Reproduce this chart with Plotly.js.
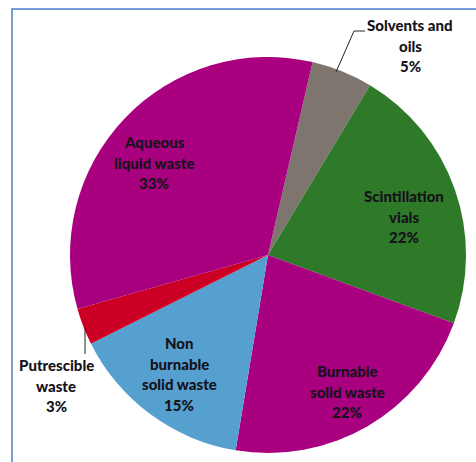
<!DOCTYPE html>
<html>
<head>
<meta charset="utf-8">
<script src="https://cdn.plot.ly/plotly-3.0.1.min.js"></script>
<style>html,body{margin:0;padding:0;background:#fff;}#chart{width:476px;height:462px;}</style>
</head>
<body>
<div id="chart"></div>
<script>
// Data (clockwise from top)
const categories = ["Solvents and oils", "Scintillation vials", "Burnable solid waste", "Non burnable solid waste", "Putrescible waste", "Aqueous liquid waste"];
const labelLines = [["Solvents and", "oils"], ["Scintillation", "vials"], ["Burnable", "solid waste"], ["Non", "burnable", "solid waste"], ["Putrescible", "waste"], ["Aqueous", "liquid waste"]];
const values = [5, 22, 22, 15, 3, 33];
const colors = ["#7F756F", "#2E7A28", "#A8007F", "#56A0CF", "#CC0025", "#A8007F"];

// Layout positions (pixel centres of label blocks)
const W = 476, H = 462;
const labelPos = [[410, 25], [404, 196], [347, 371], [179, 343], [56, 365], [154, 142]];
const lineGap = 20.7;
const px = x => x / W, py = y => 1 - y / H;

const total = values.reduce((a, b) => a + b, 0);
const annotations = [];
categories.forEach((c, i) => {
  const lines = labelLines[i].concat([Math.round(values[i] / total * 100) + "%"]);
  lines.forEach((t, j) => {
    annotations.push({
      xref: "paper", yref: "paper", x: px(labelPos[i][0]), y: py(labelPos[i][1] + j * lineGap),
      text: t, showarrow: false, xanchor: "center", yanchor: "middle",
      font: {family: "Lato, 'Open Sans', sans-serif", size: 15, weight: 900, color: "#15121A"}
    });
  });
});

const shapes = [
  {type: "rect", xref: "paper", yref: "paper", x0: px(12), x1: px(490), y0: py(480), y1: py(9),
   line: {color: "#4A7CC9", width: 1.5}, fillcolor: "rgba(0,0,0,0)"},
  {type: "path", xref: "paper", yref: "paper",
   path: `M ${px(336)} ${py(72)} L ${px(354)} ${py(31)} L ${px(365)} ${py(31)}`,
   line: {color: "#222", width: 1}},
  {type: "path", xref: "paper", yref: "paper",
   path: `M ${px(85)} ${py(327)} L ${px(85)} ${py(354)}`,
   line: {color: "#222", width: 1}}
];

const trace = {
  type: "pie", labels: categories, values: values, sort: false, direction: "clockwise",
  rotation: 13, marker: {colors: colors, line: {width: 0}}, textinfo: "none", hoverinfo: "none",
  domain: {x: [px(70), px(466)], y: [py(453), py(57)]}, showlegend: false
};

Plotly.newPlot("chart", [trace], {
  width: W, height: H, margin: {l: 0, r: 0, t: 0, b: 0},
  paper_bgcolor: "#fff", plot_bgcolor: "#fff", showlegend: false,
  annotations: annotations, shapes: shapes
}, {displayModeBar: false, staticPlot: true});
</script>
</body>
</html>
